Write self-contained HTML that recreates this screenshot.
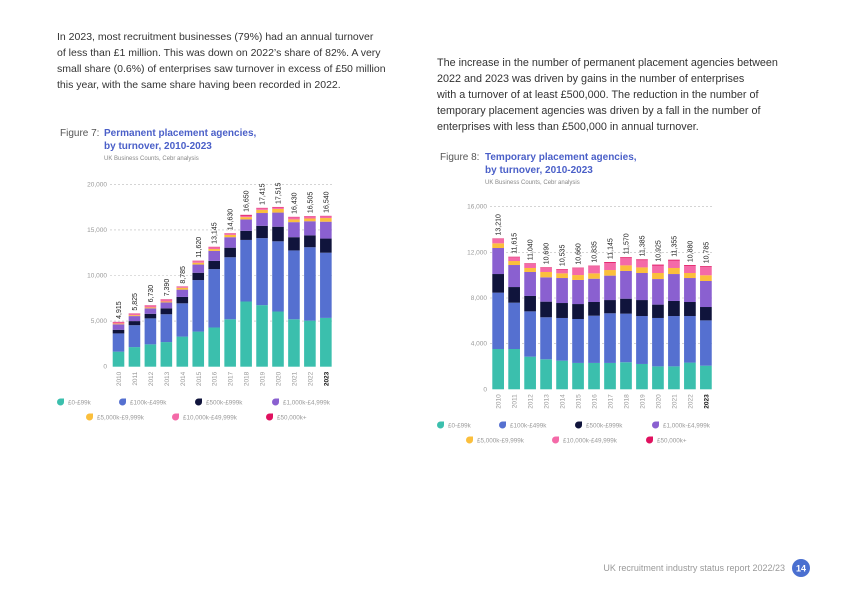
<!DOCTYPE html>
<html><head><meta charset="utf-8"><style>
body{margin:0;background:#fff;}
svg{display:block;font-family:"Liberation Sans",sans-serif;}
</style></head><body>
<svg id="page" width="842" height="596" viewBox="0 0 842 596">
<g fill="#333" font-size="10.5">
<text x="57" y="40">In 2023, most recruitment businesses (79%) had an annual turnover</text>
<text x="57" y="56">of less than £1 million. This was down on 2022’s share of 82%. A very</text>
<text x="57" y="72">small share (0.6%) of enterprises saw turnover in excess of £50 million</text>
<text x="57" y="88">this year, with the same share having been recorded in 2022.</text>
</g>
<g fill="#333" font-size="10.8">
<text x="437" y="66">The increase in the number of permanent placement agencies between</text>
<text x="437" y="82">2022 and 2023 was driven by gains in the number of enterprises</text>
<text x="437" y="98">with a turnover of at least £500,000. The reduction in the number of</text>
<text x="437" y="114">temporary placement agencies was driven by a fall in the number of</text>
<text x="437" y="130">enterprises with less than £500,000 in annual turnover.</text>
</g>
<g>
<text x="60" y="136" font-size="10" fill="#555">Figure 7:</text>
<text x="104" y="136" font-size="10" font-weight="bold" fill="#4a5fc8">Permanent placement agencies,</text>
<text x="104" y="149" font-size="10" font-weight="bold" fill="#4a5fc8">by turnover, 2010-2023</text>
<text x="104" y="160" font-size="6" fill="#888">UK Business Counts, Cebr analysis</text>
</g>
<g>
<text x="440" y="160" font-size="10" fill="#555">Figure 8:</text>
<text x="485" y="160" font-size="10" font-weight="bold" fill="#4a5fc8">Temporary placement agencies,</text>
<text x="485" y="173" font-size="10" font-weight="bold" fill="#4a5fc8">by turnover, 2010-2023</text>
<text x="485" y="184" font-size="6" fill="#888">UK Business Counts, Cebr analysis</text>
</g>
<g id="chart1"></g>
<g id="chart2"></g>
<g>
<text x="785" y="571" font-size="9" fill="#999" text-anchor="end">UK recruitment industry status report 2022/23</text>
<circle cx="801" cy="568" r="9" fill="#4a6fd0"/>
<text x="801" y="571.5" font-size="9" font-weight="bold" fill="#fff" text-anchor="middle">14</text>
</g>
</svg>
<script>
const years = ["2010","2011","2012","2013","2014","2015","2016","2017","2018","2019","2020","2021","2022","2023"];
const seriesNames = ["£0-£99k","£100k-£499k","£500k-£999k","£1,000k-£4,999k","£5,000k-£9,999k","£10,000k-£49,999k","£50,000k+"];
const colors = ["#3bbfad","#5570d0","#10143c","#8a60d0","#fbbf3c","#f46aa8","#e0115f"];
// Permanent
const permTeal = [1650,2150,2450,2700,3300,3850,4300,5200,7150,6750,6050,5200,5050,5350];
const permBlue = [2000,2400,2850,3050,3650,5650,6400,6800,6750,7350,7700,7550,8050,7150];
const permNavy = [400,450,500,650,700,800,900,1050,1000,1350,1600,1450,1300,1550];
const permPurple = [600,550,600,650,800,900,1100,1150,1250,1400,1550,1650,1550,1850];
const permYellow = [80,100,100,100,200,200,200,250,250,350,400,300,300,400];
const permPink = [135,125,180,190,85,170,195,130,150,165,165,230,205,190];
const permRed = [50,50,50,50,50,50,50,50,100,50,50,50,50,50];
const permTotals = ["4,915","5,825","6,730","7,390","8,785","11,620","13,145","14,630","16,650","17,415","17,515","16,430","16,505","16,540"];
const permTicks = [0,5000,10000,15000,20000];
// Temporary
const tempTeal = [3530,3530,2860,2630,2510,2310,2310,2310,2370,2220,2010,2010,2340,2070];
const tempBlue = [4940,4060,3970,3680,3740,3850,4140,4350,4260,4200,4240,4410,4080,3970];
const tempNavy = [1630,1370,1350,1370,1310,1310,1200,1160,1310,1400,1170,1320,1230,1170];
const tempPurple = [2280,1930,2100,2130,2190,2110,2040,2140,2430,2370,2240,2360,2100,2280];
const tempYellow = [410,350,350,470,410,430,470,490,490,490,530,530,440,500];
const tempPink = [370,325,360,360,325,600,625,615,630,625,655,645,610,715];
const tempRed = [50,50,50,50,50,50,50,80,80,80,80,80,80,80];
const tempTotals = ["13,210","11,615","11,040","10,690","10,535","10,660","10,835","11,145","11,570","11,385","10,925","11,355","10,880","10,785"];
const tempTicks = [0,4000,8000,12000,16000];

const NS="http://www.w3.org/2000/svg";
function mk(tag, attrs, parent){const e=document.createElementNS(NS,tag);for(const k in attrs)e.setAttribute(k,attrs[k]);parent.appendChild(e);return e;}

function draw(g, series, totals, ticks, cfg){
  const yMax = ticks[ticks.length-1];
  const y = v => cfg.y0 - v/yMax*(cfg.y0-cfg.yTop);
  const x = i => cfg.x0 + i*cfg.pitch;
  ticks.forEach(t=>{
    const ty=y(t);
    if(t>0){
      const l=mk('line',{x1:cfg.gx1,x2:cfg.gx2,y1:ty,y2:ty,stroke:'#bbb','stroke-width':0.6,'stroke-dasharray':'2,2'},g);
      
      
    }
    const tl=mk('text',{x:cfg.gx1-3,y:ty+2,'font-size':6.5,fill:'#999','text-anchor':'end'},g);
    tl.textContent=t.toLocaleString('en-US');
    
    
  });
  years.forEach((yr,i)=>{
    let cum=0;
    series.forEach((s,k)=>{
      const v=s[i];
      const r=mk('rect',{x:x(i),y:y(cum+v),width:cfg.bw,height:Math.max(0,y(cum)-y(cum+v)),fill:colors[k]},g);
      
      
      cum+=v;
    });
    const cx=x(i)+cfg.bw/2+2.5;
    const tt=mk('text',{x:0,y:0,'font-size':7,fill:'#222',transform:`translate(${cx},${y(cum)-3}) rotate(-90)`},g);
    tt.textContent=totals[i];
    
    
    const yl=mk('text',{x:0,y:0,'font-size':6.5,fill:yr==='2023'?'#111':'#999','font-weight':yr==='2023'?'bold':'normal','text-anchor':'end',transform:`translate(${cx},${cfg.y0+5}) rotate(-90)`},g);
    yl.textContent=yr;
    
    
  });
  cfg.legend.forEach((p,k)=>{
    const m=mk('path',{d:`M${p[0]+3.5},${p[1]-3.5} h3.5 v3.5 a3.5,3.5 0 1 1 -3.5,-3.5z`,fill:colors[k]},g);
    
    
    const t=mk('text',{x:p[0]+11,y:p[1]+2.3,'font-size':6.3,fill:'#999'},g);
    t.textContent=seriesNames[k];
    
    
  });
}
draw(document.getElementById('chart1'),[permTeal,permBlue,permNavy,permPurple,permYellow,permPink,permRed],permTotals,permTicks,
 {x0:112.7,pitch:15.95,bw:11.6,y0:366.7,yTop:184.3,gx1:110,gx2:334,
  legend:[[57,402],[119,402],[195,402],[272,402],[86,417],[172,417],[266,417]]});
draw(document.getElementById('chart2'),[tempTeal,tempBlue,tempNavy,tempPurple,tempYellow,tempPink,tempRed],tempTotals,tempTicks,
 {x0:492.3,pitch:15.98,bw:11.7,y0:389.3,yTop:206.7,gx1:490,gx2:714,
  legend:[[437,425],[499,425],[575,425],[652,425],[466,440],[552,440],[646,440]]});
</script>
</body></html>
